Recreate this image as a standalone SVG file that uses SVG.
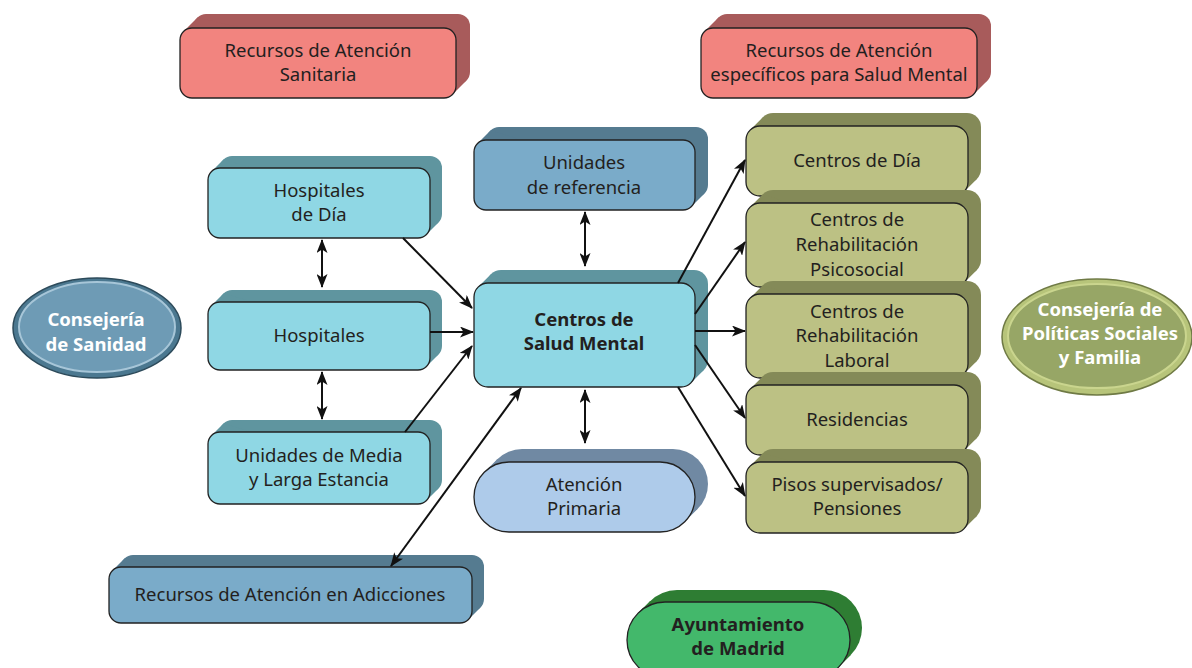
<svg xmlns="http://www.w3.org/2000/svg" width="1192" height="668" viewBox="0 0 1192 668">
<defs>
<marker id="ah" viewBox="0 0 14 11" refX="13" refY="5.5" markerWidth="14" markerHeight="11" markerUnits="userSpaceOnUse" orient="auto-start-reverse">
<path d="M0,0 L14,5.5 L0,11 L3.5,5.5 z" fill="#111"/>
</marker>
</defs>
<style>
text{font-family:"Noto Sans","Open Sans","Liberation Sans",sans-serif;font-size:18.5px;fill:#231f20;text-anchor:middle}
.b{font-weight:bold}
.w{fill:#fff;font-weight:bold}
.front{stroke:#222;stroke-width:1.3}
.redF{fill:#f2847f}.redB{fill:#a85b5b}
.tealF{fill:#8fd7e4}.tealB{fill:#5f959f}
.blueF{fill:#7aabc9}.blueB{fill:#557b90}
.lbF{fill:#aecbea}.lbB{fill:#7089a3}
.olF{fill:#bcc184}.olB{fill:#848a58}
.grF{fill:#43b86b}.grB{fill:#2e7d33}
.con{stroke:#111;stroke-width:2;fill:none}
</style>

<g id="recursos-sanitaria">
<rect class="redB" x="194" y="14" width="276" height="70" rx="12"/>
<polygon class="redB" points="183.5,31.5 197.5,17.5 466.5,80.5 452.5,94.5"/>
<rect class="redF front" x="180" y="28" width="276" height="70" rx="12"/>
<text x="318" y="57">Recursos de Atención</text>
<text x="318" y="81">Sanitaria</text>
</g>

<g id="recursos-salud-mental">
<rect class="redB" x="715" y="14" width="276" height="70" rx="12"/>
<polygon class="redB" points="704.5,31.5 718.5,17.5 987.5,80.5 973.5,94.5"/>
<rect class="redF front" x="701" y="28" width="276" height="70" rx="12"/>
<text x="839" y="57">Recursos de Atención</text>
<text x="839" y="81">específicos para Salud Mental</text>
</g>

<g id="hospitales-dia">
<rect class="tealB" x="220" y="156" width="222" height="70" rx="12"/>
<polygon class="tealB" points="211.5,171.5 223.5,159.5 438.5,222.5 426.5,234.5"/>
<rect class="tealF front" x="208" y="168" width="222" height="70" rx="12"/>
<text x="319" y="197">Hospitales</text>
<text x="319" y="221">de Día</text>
</g>

<g id="hospitales">
<rect class="tealB" x="220" y="290" width="222" height="68" rx="12"/>
<polygon class="tealB" points="211.5,305.5 223.5,293.5 438.5,354.5 426.5,366.5"/>
<rect class="tealF front" x="208" y="302" width="222" height="68" rx="12"/>
<text x="319" y="342">Hospitales</text>
</g>

<g id="unidades-media">
<rect class="tealB" x="220" y="420" width="222" height="72" rx="12"/>
<polygon class="tealB" points="211.5,435.5 223.5,423.5 438.5,488.5 426.5,500.5"/>
<rect class="tealF front" x="208" y="432" width="222" height="72" rx="12"/>
<text x="319" y="462">Unidades de Media</text>
<text x="319" y="486">y Larga Estancia</text>
</g>

<g id="unidades-referencia">
<rect class="blueB" x="487" y="127" width="221" height="70" rx="12"/>
<polygon class="blueB" points="477.5,143.5 490.5,130.5 704.5,193.5 691.5,206.5"/>
<rect class="blueF front" x="474" y="140" width="221" height="70" rx="12"/>
<text x="584" y="169">Unidades</text>
<text x="584" y="194">de referencia</text>
</g>

<g id="centros-salud-mental">
<rect class="tealB" x="487" y="270" width="221" height="104" rx="14"/>
<polygon class="tealB" points="478.1,287.1 491.1,274.1 703.9,369.9 690.9,382.9"/>
<rect class="tealF front" x="474" y="283" width="221" height="104" rx="14"/>
<text class="b" x="584" y="326">Centros de</text>
<text class="b" x="584" y="350">Salud Mental</text>
</g>

<g id="atencion-primaria">
<rect class="lbB" x="487" y="449" width="221" height="70" rx="35"/>
<polygon class="lbB" points="484.25,472.25 497.25,459.25 697.75,508.75 684.75,521.75"/>
<rect class="lbF front" x="474" y="462" width="221" height="70" rx="35"/>
<text x="584" y="491">Atención</text>
<text x="584" y="515">Primaria</text>
</g>

<g id="recursos-adicciones">
<rect class="blueB" x="121" y="555" width="363" height="56" rx="12"/>
<polygon class="blueB" points="112.5,570.5 124.5,558.5 480.5,607.5 468.5,619.5"/>
<rect class="blueF front" x="109" y="567" width="363" height="56" rx="12"/>
<text x="290" y="601">Recursos de Atención en Adicciones</text>
</g>

<g id="centros-dia">
<rect class="olB" x="759" y="113" width="222" height="70" rx="14"/>
<polygon class="olB" points="750.1,130.1 763.1,117.1 976.9,178.9 963.9,191.9"/>
<rect class="olF front" x="746" y="126" width="222" height="70" rx="14"/>
<text x="857" y="167">Centros de Día</text>
</g>

<g id="rehab-psicosocial">
<rect class="olB" x="759" y="190" width="222" height="84" rx="14"/>
<polygon class="olB" points="750.1,207.1 763.1,194.1 976.9,269.9 963.9,282.9"/>
<rect class="olF front" x="746" y="203" width="222" height="84" rx="14"/>
<text x="857" y="226">Centros de</text>
<text x="857" y="251">Rehabilitación</text>
<text x="857" y="276">Psicosocial</text>
</g>

<g id="rehab-laboral">
<rect class="olB" x="759" y="281" width="222" height="84" rx="14"/>
<polygon class="olB" points="750.1,298.1 763.1,285.1 976.9,360.9 963.9,373.9"/>
<rect class="olF front" x="746" y="294" width="222" height="84" rx="14"/>
<text x="857" y="318">Centros de</text>
<text x="857" y="342">Rehabilitación</text>
<text x="857" y="367">Laboral</text>
</g>

<g id="residencias">
<rect class="olB" x="759" y="372" width="222" height="70" rx="14"/>
<polygon class="olB" points="750.1,389.1 763.1,376.1 976.9,437.9 963.9,450.9"/>
<rect class="olF front" x="746" y="385" width="222" height="70" rx="14"/>
<text x="857" y="426">Residencias</text>
</g>

<g id="pisos">
<rect class="olB" x="759" y="449" width="222" height="71" rx="14"/>
<polygon class="olB" points="750.1,466.1 763.1,453.1 976.9,515.9 963.9,528.9"/>
<rect class="olF front" x="746" y="462" width="222" height="71" rx="14"/>
<text x="857" y="491">Pisos supervisados/</text>
<text x="857" y="515">Pensiones</text>
</g>

<g id="ayuntamiento">
<rect class="grB" x="639" y="590" width="223" height="76" rx="38"/>
<polygon class="grB" points="638.1,613.1 650.1,601.1 850.9,654.9 838.9,666.9"/>
<rect class="grF front" x="627" y="602" width="223" height="76" rx="38"/>
<text class="b" x="738" y="631">Ayuntamiento</text>
<text class="b" x="738" y="655">de Madrid</text>
</g>

<g id="consejeria-sanidad">
<ellipse cx="97" cy="328" rx="84" ry="50" fill="#4b7890" stroke="#2c4a5a" stroke-width="1.5"/>
<ellipse cx="97" cy="327" rx="78" ry="45" fill="#6e9bb5" stroke="#a7c6d8" stroke-width="2"/>
<text class="w" x="96" y="326">Consejería</text>
<text class="w" x="96" y="351">de Sanidad</text>
</g>

<g id="consejeria-politicas">
<ellipse cx="1097" cy="337" rx="95" ry="58" fill="#b7c47a" stroke="#6f7a45" stroke-width="1.5"/>
<ellipse cx="1097" cy="336" rx="89" ry="52" fill="#97a666" stroke="#cad58e" stroke-width="2"/>
<text class="w" x="1100" y="316">Consejería de</text>
<text class="w" x="1100" y="340">Políticas Sociales</text>
<text class="w" x="1100" y="364">y Familia</text>
</g>

<g id="connectors">
<line class="con" x1="322" y1="240" x2="322" y2="287" marker-start="url(#ah)" marker-end="url(#ah)"/>
<line class="con" x1="322" y1="372" x2="322" y2="419" marker-start="url(#ah)" marker-end="url(#ah)"/>
<line class="con" x1="403" y1="238" x2="472" y2="308" marker-end="url(#ah)"/>
<line class="con" x1="430" y1="332" x2="473" y2="332" marker-end="url(#ah)"/>
<line class="con" x1="405" y1="432" x2="472" y2="346" marker-end="url(#ah)"/>
<line class="con" x1="391" y1="566" x2="521" y2="388" marker-start="url(#ah)" marker-end="url(#ah)"/>
<line class="con" x1="585" y1="212" x2="585" y2="266" marker-start="url(#ah)" marker-end="url(#ah)"/>
<line class="con" x1="585" y1="390" x2="585" y2="443" marker-start="url(#ah)" marker-end="url(#ah)"/>
<line class="con" x1="678" y1="283" x2="745" y2="160" marker-end="url(#ah)"/>
<line class="con" x1="695" y1="314" x2="745" y2="242" marker-end="url(#ah)"/>
<line class="con" x1="695" y1="331" x2="745" y2="331" marker-end="url(#ah)"/>
<line class="con" x1="695" y1="345" x2="745" y2="418" marker-end="url(#ah)"/>
<line class="con" x1="678" y1="387" x2="745" y2="496" marker-end="url(#ah)"/>
</g>
</svg>
